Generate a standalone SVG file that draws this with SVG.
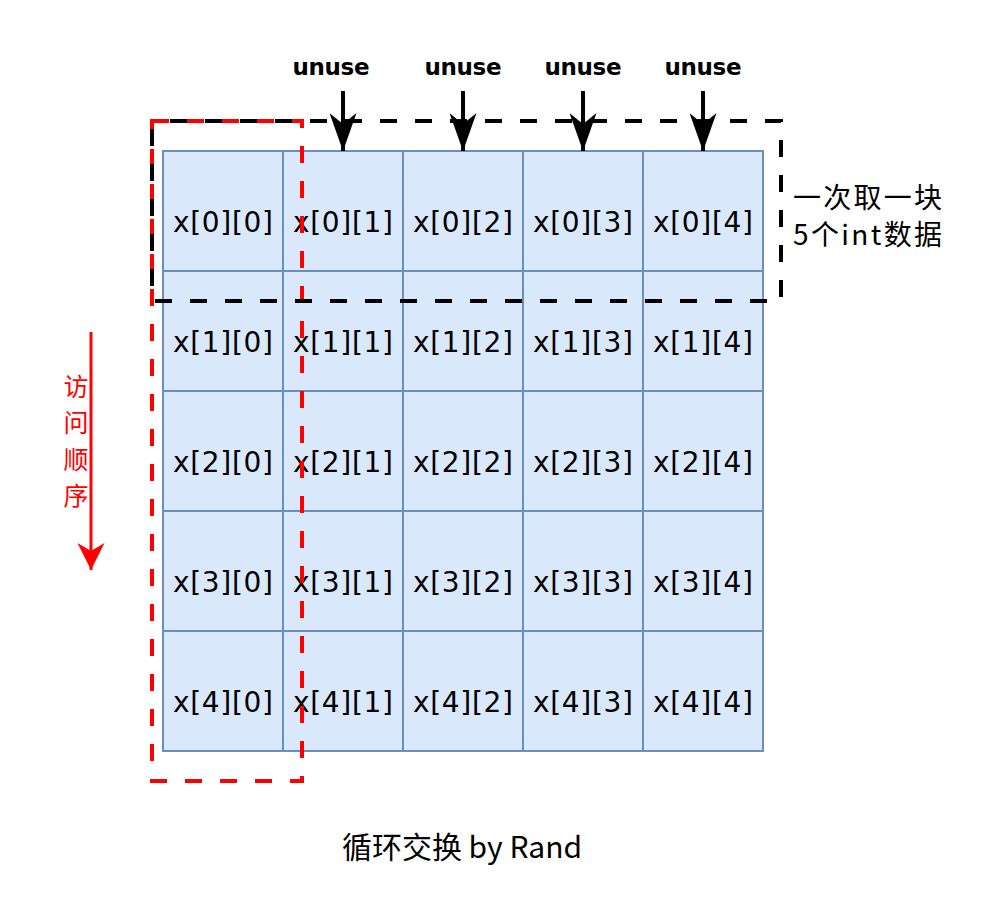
<svg xmlns="http://www.w3.org/2000/svg" width="1008" height="906" viewBox="0 0 1008 906">
<defs>
<style>
.cell{fill:#dae8fc;stroke:#6c8ebf;stroke-width:2}
.t{font-family:"DejaVu Sans","Noto Sans",sans-serif;font-size:28px;fill:#000;text-anchor:middle;dominant-baseline:central}
.u{font-family:"DejaVu Sans",sans-serif;font-size:23px;font-weight:bold;fill:#000;text-anchor:middle;dominant-baseline:central}
.cjk{font-family:"Noto Sans CJK SC","Noto Sans",sans-serif;font-size:28px;dominant-baseline:central}
.red{font-family:"Noto Sans CJK SC",sans-serif;font-size:25px;fill:#ff0000;text-anchor:middle;dominant-baseline:central}
.cap{font-family:"Noto Sans CJK SC","Noto Sans",sans-serif;font-size:30px;text-anchor:middle;dominant-baseline:central}
</style>
<marker id="ah" viewBox="0 0 38 27" refX="38" refY="13.5" markerWidth="38" markerHeight="27" orient="auto" markerUnits="userSpaceOnUse"><path d="M0,0 L38,13.5 L0,27 L11,13.5 Z" fill="#000"/></marker>
<marker id="ahr" viewBox="0 0 27 27" refX="27" refY="13.5" markerWidth="27" markerHeight="27" orient="auto" markerUnits="userSpaceOnUse"><path d="M0,0 L27,13.5 L0,27 L8,13.5 Z" fill="#ff0000"/></marker>
</defs>
<rect width="1008" height="906" fill="#fff"/>
<g id="grid">
<g id="r0">
<rect class="cell" x="163" y="151" width="120" height="120"/><text class="t" x="223" y="222" textLength="100">x[0][0]</text>
<rect class="cell" x="283" y="151" width="120" height="120"/><text class="t" x="343" y="222" textLength="100">x[0][1]</text>
<rect class="cell" x="403" y="151" width="120" height="120"/><text class="t" x="463" y="222" textLength="100">x[0][2]</text>
<rect class="cell" x="523" y="151" width="120" height="120"/><text class="t" x="583" y="222" textLength="100">x[0][3]</text>
<rect class="cell" x="643" y="151" width="120" height="120"/><text class="t" x="703" y="222" textLength="100">x[0][4]</text>
</g>
<g id="r1">
<rect class="cell" x="163" y="271" width="120" height="120"/><text class="t" x="223" y="342" textLength="100">x[1][0]</text>
<rect class="cell" x="283" y="271" width="120" height="120"/><text class="t" x="343" y="342" textLength="100">x[1][1]</text>
<rect class="cell" x="403" y="271" width="120" height="120"/><text class="t" x="463" y="342" textLength="100">x[1][2]</text>
<rect class="cell" x="523" y="271" width="120" height="120"/><text class="t" x="583" y="342" textLength="100">x[1][3]</text>
<rect class="cell" x="643" y="271" width="120" height="120"/><text class="t" x="703" y="342" textLength="100">x[1][4]</text>
</g>
<g id="r2">
<rect class="cell" x="163" y="391" width="120" height="120"/><text class="t" x="223" y="462" textLength="100">x[2][0]</text>
<rect class="cell" x="283" y="391" width="120" height="120"/><text class="t" x="343" y="462" textLength="100">x[2][1]</text>
<rect class="cell" x="403" y="391" width="120" height="120"/><text class="t" x="463" y="462" textLength="100">x[2][2]</text>
<rect class="cell" x="523" y="391" width="120" height="120"/><text class="t" x="583" y="462" textLength="100">x[2][3]</text>
<rect class="cell" x="643" y="391" width="120" height="120"/><text class="t" x="703" y="462" textLength="100">x[2][4]</text>
</g>
<g id="r3">
<rect class="cell" x="163" y="511" width="120" height="120"/><text class="t" x="223" y="582" textLength="100">x[3][0]</text>
<rect class="cell" x="283" y="511" width="120" height="120"/><text class="t" x="343" y="582" textLength="100">x[3][1]</text>
<rect class="cell" x="403" y="511" width="120" height="120"/><text class="t" x="463" y="582" textLength="100">x[3][2]</text>
<rect class="cell" x="523" y="511" width="120" height="120"/><text class="t" x="583" y="582" textLength="100">x[3][3]</text>
<rect class="cell" x="643" y="511" width="120" height="120"/><text class="t" x="703" y="582" textLength="100">x[3][4]</text>
</g>
<g id="r4">
<rect class="cell" x="163" y="631" width="120" height="120"/><text class="t" x="223" y="702" textLength="100">x[4][0]</text>
<rect class="cell" x="283" y="631" width="120" height="120"/><text class="t" x="343" y="702" textLength="100">x[4][1]</text>
<rect class="cell" x="403" y="631" width="120" height="120"/><text class="t" x="463" y="702" textLength="100">x[4][2]</text>
<rect class="cell" x="523" y="631" width="120" height="120"/><text class="t" x="583" y="702" textLength="100">x[4][3]</text>
<rect class="cell" x="643" y="631" width="120" height="120"/><text class="t" x="703" y="702" textLength="100">x[4][4]</text>
</g>
</g>
<g id="red-box">
<rect x="152" y="121" width="150" height="660" fill="none" stroke="#ff0000" stroke-width="4" stroke-dasharray="17 18"/>
</g>
<g id="black-box">
<rect x="152" y="121" width="629" height="180" fill="none" stroke="#000" stroke-width="4" stroke-dasharray="17 18" stroke-dashoffset="17"/>
</g>
<g id="labels">
<text class="u" x="331" y="67" textLength="77">unuse</text>
<text class="u" x="463" y="67" textLength="77">unuse</text>
<text class="u" x="583" y="67" textLength="77">unuse</text>
<text class="u" x="703" y="67" textLength="77">unuse</text>
<text class="cjk" x="793" y="196" textLength="149">一次取一块</text>
<text class="cjk" x="793" y="233" textLength="149">5个int数据</text>
<text class="red" x="76" y="385">访</text>
<text class="red" x="76" y="421">问</text>
<text class="red" x="76" y="458">顺</text>
<text class="red" x="76" y="494">序</text>
<text class="cap" x="462" y="845">循环交换 by Rand</text>
</g>
<g id="connectors">
<line x1="343" y1="91" x2="343" y2="151" stroke="#000" stroke-width="4" marker-end="url(#ah)"/>
<line x1="463" y1="91" x2="463" y2="151" stroke="#000" stroke-width="4" marker-end="url(#ah)"/>
<line x1="583" y1="91" x2="583" y2="151" stroke="#000" stroke-width="4" marker-end="url(#ah)"/>
<line x1="703" y1="91" x2="703" y2="151" stroke="#000" stroke-width="4" marker-end="url(#ah)"/>
<line x1="91" y1="332" x2="91" y2="570" stroke="#ff0000" stroke-width="3" marker-end="url(#ahr)"/>
</g>
</svg>
